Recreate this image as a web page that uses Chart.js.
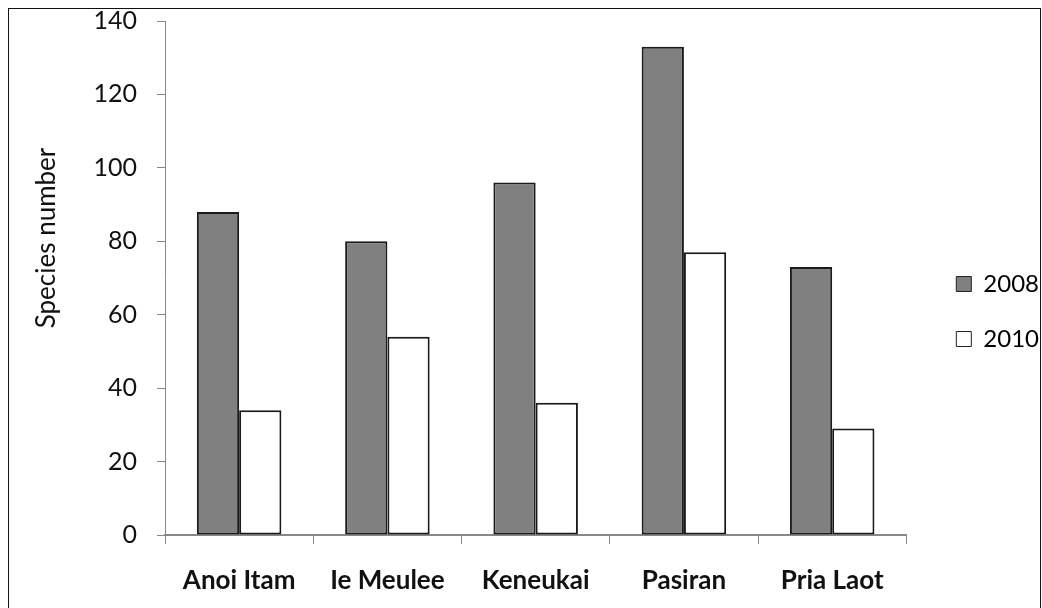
<!DOCTYPE html>
<html>
<head>
<meta charset="utf-8">
<script src="https://cdn.jsdelivr.net/npm/chart.js@4"></script>
<style>
  html, body { margin: 0; padding: 0; background: #fff; overflow: hidden; }
  #wrap { position: relative; width: 1042px; height: 608px; }
  #frame { position: absolute; left: 8px; top: 8px; width: 1031px; height: 620px; border: 1px solid #111; pointer-events: none; }
  canvas { position: absolute; left: 0; top: 0; }
</style>
</head>
<body>
<div id="wrap">
  <canvas id="chart" width="1042" height="608"></canvas>
  <div id="frame"></div>
</div>
<script>
// --- DATA ---
const sites = ["Anoi Itam", "Ie Meulee", "Keneukai", "Pasiran", "Pria Laot"];
const years = ["2008", "2010"];
const species2008 = [88, 80, 96, 133, 73];
const species2010 = [34, 54, 36, 77, 29];
const yTicks = [0, 20, 40, 60, 80, 100, 120, 140];

const FONT = "Lato, 'Liberation Sans', sans-serif";

// y axis title drawn by hand, placed like the original
const axisTitle = {
    id: 'axisTitle',
    afterDraw(chart) {
        const ctx = chart.ctx;
        ctx.save();
        ctx.translate(47, 238);
        ctx.rotate(-Math.PI / 2);
        ctx.font = "26px " + FONT;
        ctx.fillStyle = "#111";
        ctx.textAlign = "center";
        ctx.textBaseline = "middle";
        ctx.fillText("Species number", 0, 0);
        ctx.restore();
    }
};

// nudge the legend a bit further right, like the original
const legendShift = {
    id: 'legendShift',
    afterLayout(chart) {
        const lg = chart.legend;
        if (!lg) return;
        lg.left += 19; lg.right += 19;
        lg.top -= 3; lg.bottom -= 3;
    }
};

new Chart(document.getElementById('chart'), {
    type: 'bar',
    data: {
        labels: sites,
        datasets: [
            { label: years[0], data: species2008, backgroundColor: '#808080', borderColor: '#1a1a1a', borderWidth: 2, borderSkipped: false },
            { label: years[1], data: species2010, backgroundColor: '#ffffff', borderColor: '#1a1a1a', borderWidth: 2, borderSkipped: false }
        ]
    },
    options: {
        responsive: false,
        animation: false,
        layout: { padding: { top: 21, right: 12, left: 0, bottom: 0 } },
        datasets: { bar: { categoryPercentage: 0.57, barPercentage: 1.0 } },
        plugins: {
            tooltip: { enabled: false },
            legend: {
                position: 'right',
                labels: {
                    font: { family: FONT, size: 24 },
                    color: '#111',
                    boxWidth: 15,
                    boxHeight: 15,
                    padding: 31,
                    generateLabels(chart) {
                        return chart.data.datasets.map((ds, i) => ({
                            text: ds.label,
                            fillStyle: ds.backgroundColor,
                            strokeStyle: '#222',
                            lineWidth: 1,
                            datasetIndex: i
                        }));
                    }
                }
            }
        },
        scales: {
            x: {
                afterFit(s) { s.height = 73; },
                border: { color: '#888', width: 2 },
                grid: { display: true, drawOnChartArea: false, tickLength: 9, color: '#888', lineWidth: 1 },
                ticks: { font: { family: FONT, size: 26, weight: 'bold' }, color: '#111', padding: 21 }
            },
            y: {
                min: 0, max: 140,
                afterFit(s) { s.width = 165; s.paddingTop = 0; },
                afterBuildTicks(s) { s.ticks = yTicks.map(v => ({ value: v })); },
                border: { color: '#888', width: 1 },
                grid: { display: true, drawOnChartArea: false, tickLength: 8, color: '#888' },
                ticks: { font: { family: FONT, size: 25 }, color: '#111', padding: 20 }
            }
        }
    },
    plugins: [axisTitle, legendShift]
});
</script>
</body>
</html>
